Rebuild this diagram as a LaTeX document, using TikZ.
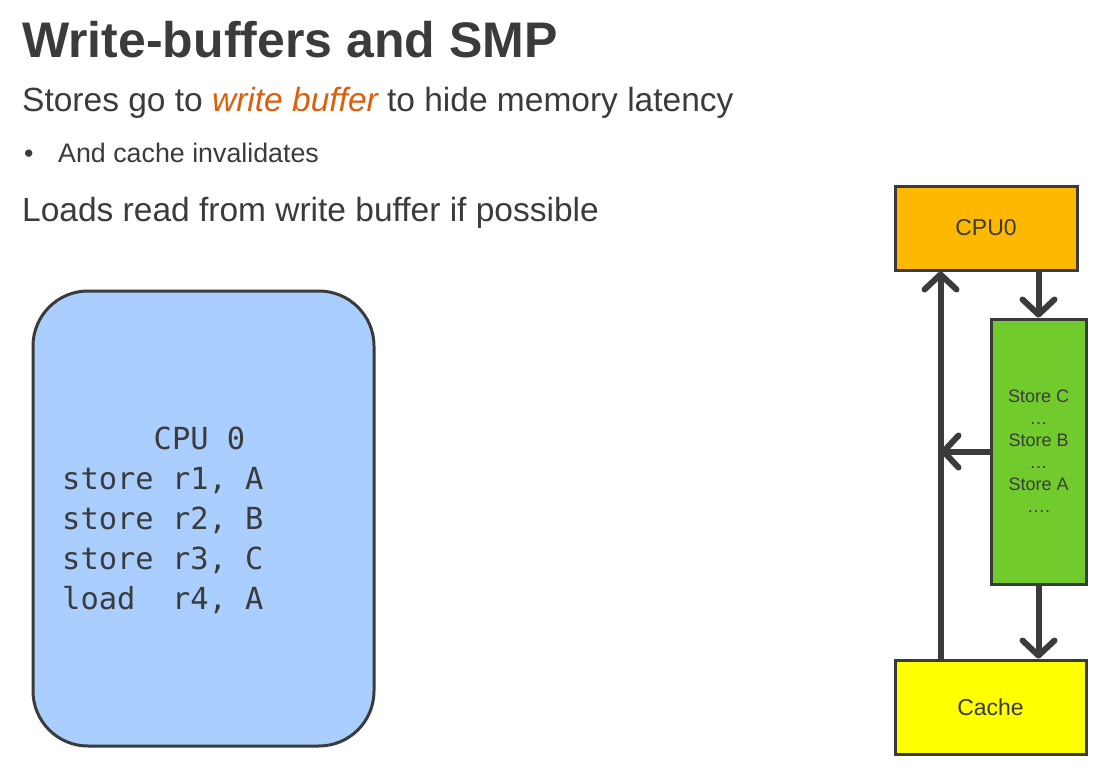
\documentclass[tikz,border=0pt]{standalone}
\usepackage{fontspec}
\setmainfont{Liberation Sans}
\setmonofont{DejaVu Sans Mono}
\usetikzlibrary{arrows.meta,calc,positioning}
\definecolor{ink}{HTML}{3B3B3B}
\definecolor{hl}{HTML}{DD5E0C}
\definecolor{cpufill}{HTML}{AACEFF}
\definecolor{cpuorange}{HTML}{FFB800}
\definecolor{bufgreen}{HTML}{72CB2D}
\definecolor{cacheyellow}{HTML}{FFFF00}
\tikzset{
  slidetext/.style={anchor=base west, inner sep=0pt, text=ink},
  unit/.style={draw=ink, line width=3pt, inner sep=0pt, text=ink,
    font=\fontsize{23}{27}\selectfont},
  flow/.style={draw=ink, line width=6pt,
    -{Straight Barb[length=15pt, width=32pt, round]}},
}

\begin{document}
\begin{tikzpicture}[x=1pt, y=-1pt]
			%%%%% START %%%%%
			\useasboundingbox (0,0) rectangle (1113,765);

			% heading and bullet text
			\node[slidetext, font=\fontsize{50}{56}\selectfont\bfseries] (title) at (22,58) {Write-buffers and SMP};
			\node[slidetext, font=\fontsize{33.5}{38}\selectfont] (point1) at (22,112) {Stores go to \textcolor{hl}{\itshape write buffer} to hide memory latency};
			\node[slidetext, font=\fontsize{26.8}{30}\selectfont] (dot1) at (24,162) {•};
			\node[slidetext, font=\fontsize{26.8}{30}\selectfont] (sub1) at (58,162) {And cache invalidates};
			\node[slidetext, font=\fontsize{33.5}{38}\selectfont] (point2) at (22,221) {Loads read from write buffer if possible};

			% program of CPU 0
			\draw[draw=ink, line width=3pt, fill=cpufill, rounded corners=55pt] (33,291) rectangle (374,746);
			\foreach \txt [count=\i] in {{\hphantom{xxxxx}CPU 0}, {store r1, A}, {store r2, B}, {store r3, C}, {load\hphantom{x} r4, A}}
			  \node[slidetext, font=\fontsize{30.4}{40}\ttfamily] (code\i) at (62,409+40*\i) {\txt};

			% cpu, write buffer and cache
			\node[unit, fill=cpuorange, minimum width=182pt, minimum height=84pt] (cpu) at (986,228) {CPU0};
			\node[unit, fill=bufgreen, minimum width=95pt, minimum height=265pt, align=center,
			      font=\fontsize{18}{22}\selectfont] (wbuf) at (1038.5,451.5)
			      {Store C\\…\\Store B\\…\\Store A\\….};
			\node[unit, fill=cacheyellow, minimum width=191pt, minimum height=94pt] (cache) at (990.5,707) {Cache};
			\coordinate (ret) at ([xshift=47pt]cache.north west);

			\draw[flow] (wbuf.north |- cpu.south) -- (wbuf.north);
			\draw[flow] (wbuf.south) -- (wbuf.south |- cache.north);
			\draw[flow] (ret) -- (ret |- cpu.south);
			\draw[flow] (wbuf.west) -- (wbuf.west -| ret);
			%%%%% END %%%%%
\end{tikzpicture}
\end{document}
